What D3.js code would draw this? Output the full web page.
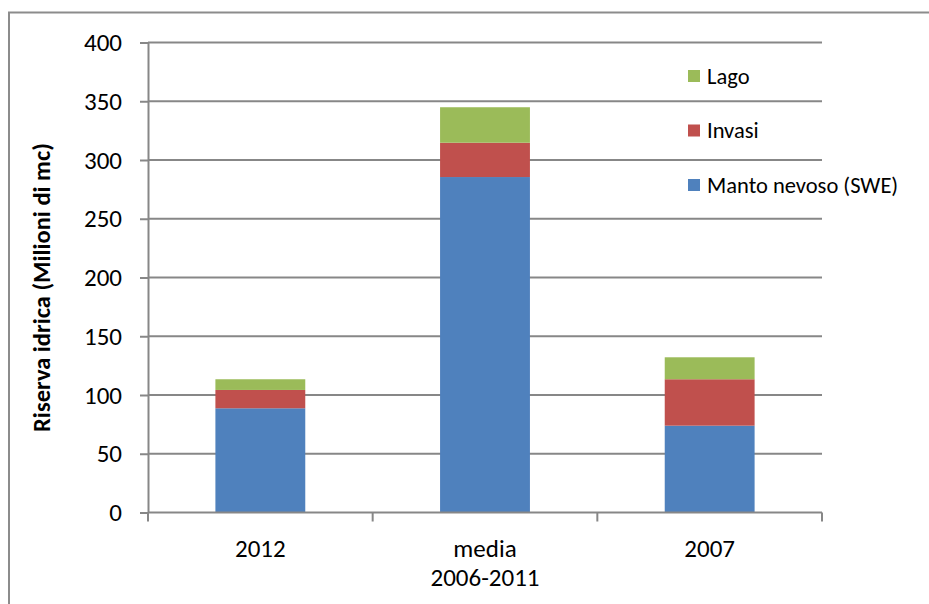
<!DOCTYPE html>
<html>
<head>
<meta charset="utf-8">
<script src="https://cdn.jsdelivr.net/npm/d3@7"></script>
<style>
  html, body { margin: 0; padding: 0; background: #fff; }
  svg { display: block; }
  text { font-family: Carlito, Calibri, "Liberation Sans", Arial, sans-serif; fill: #000; }
</style>
</head>
<body>
<svg id="chart" width="929" height="604"></svg>
<script>
const categories = [["2012"], ["media", "2006-2011"], ["2007"]];
const categoryKeys = ["2012", "media 2006-2011", "2007"];
const seriesNames = ["Manto nevoso (SWE)", "Invasi", "Lago"];
const mantoNevoso = [88.7, 285.5, 73.9];
const invasi = [15.6, 29.2, 39.5];
const lago = [9.1, 30.2, 18.7];
const yTicks = [0, 50, 100, 150, 200, 250, 300, 350, 400];
const colors = ["#4F81BD", "#C0504D", "#9BBB59"];

const svg = d3.select("#chart");
const margin = { left: 148, right: 929 - 822, top: 42.5, bottom: 604 - 512.5 };
const W = 929, H = 604;

// outer chart border
svg.append("rect").attr("x", 9).attr("y", 12.5).attr("width", W + 10).attr("height", H + 10)
  .attr("fill", "none").attr("stroke", "#8c8c8c").attr("stroke-width", 2);

const x = d3.scaleBand().domain(categoryKeys).range([margin.left, W - margin.right])
  .paddingInner(0.6).paddingOuter(0.3);
const y = d3.scaleLinear().domain([0, 400]).range([H - margin.bottom, margin.top]);

// gridlines
svg.append("g").selectAll("line").data(yTicks.filter(d => d > 0)).join("line")
  .attr("x1", margin.left).attr("x2", W - margin.right)
  .attr("y1", d => y(d)).attr("y2", d => y(d))
  .attr("stroke", "#878787").attr("stroke-width", 2);

// stacked bars
const table = categoryKeys.map((k, i) => ({ key: k, m: mantoNevoso[i], inv: invasi[i], lago: lago[i] }));
const stack = d3.stack().keys(["m", "inv", "lago"])(table);
svg.append("g").selectAll("g").data(stack).join("g")
  .attr("fill", (d, i) => colors[i])
  .selectAll("rect").data(d => d).join("rect")
  .attr("x", d => x(d.data.key))
  .attr("width", x.bandwidth())
  .attr("y", d => y(d[1]))
  .attr("height", d => y(d[0]) - y(d[1]));

// y axis
const yAxis = d3.axisLeft(y).tickValues(yTicks).tickSize(8).tickPadding(18).tickSizeOuter(0);
const gy = svg.append("g").attr("transform", `translate(${margin.left},0)`).call(yAxis);
gy.select(".domain").attr("stroke", "#878787").attr("stroke-width", 2);
gy.selectAll(".tick line").attr("stroke", "#878787").attr("stroke-width", 2);
gy.selectAll(".tick text").attr("font-size", 25).attr("font-family", null);

// x axis
const xAxis = d3.axisBottom(x).tickSize(0).tickFormat("");
const gx = svg.append("g").attr("transform", `translate(0,${y(0)})`).call(xAxis);
gx.select(".domain").remove();
svg.append("line").attr("x1", margin.left).attr("x2", W - margin.right)
  .attr("y1", y(0)).attr("y2", y(0)).attr("stroke", "#878787").attr("stroke-width", 2);
const bounds = d3.range(categoryKeys.length + 1).map(i => margin.left + i * (W - margin.left - margin.right) / categoryKeys.length);
svg.append("g").selectAll("line").data(bounds).join("line")
  .attr("x1", d => d).attr("x2", d => d)
  .attr("y1", y(0)).attr("y2", y(0) + 9)
  .attr("stroke", "#878787").attr("stroke-width", 2);

// category labels
const lab = svg.append("g").selectAll("text").data(categories).join("text")
  .attr("text-anchor", "middle").attr("font-size", 25)
  .attr("x", (d, i) => x(categoryKeys[i]) + x.bandwidth() / 2)
  .attr("y", 557);
lab.selectAll("tspan").data(d => d).join("tspan")
  .attr("x", function() { return d3.select(this.parentNode).attr("x"); })
  .attr("dy", (d, i) => i === 0 ? 0 : 29)
  .text(d => d);

// y title
svg.append("text").attr("transform", `translate(50,${y(200) + 10}) rotate(-90)`)
  .attr("text-anchor", "middle").attr("font-size", 24.5).attr("font-weight", "bold")
  .text("Riserva idrica (Milioni di mc)");

// legend (top to bottom: Lago, Invasi, Manto)
const legendOrder = [2, 1, 0];
const lg = svg.append("g").selectAll("g").data(legendOrder).join("g")
  .attr("transform", (d, i) => `translate(688,${76 + i * 54.5})`);
lg.append("rect").attr("x", 0).attr("y", -6).attr("width", 12).attr("height", 12)
  .attr("fill", d => colors[d]);
lg.append("text").attr("x", 19).attr("y", 7.5).attr("font-size", 22.5)
  .text(d => seriesNames[d]);
</script>
</body>
</html>
